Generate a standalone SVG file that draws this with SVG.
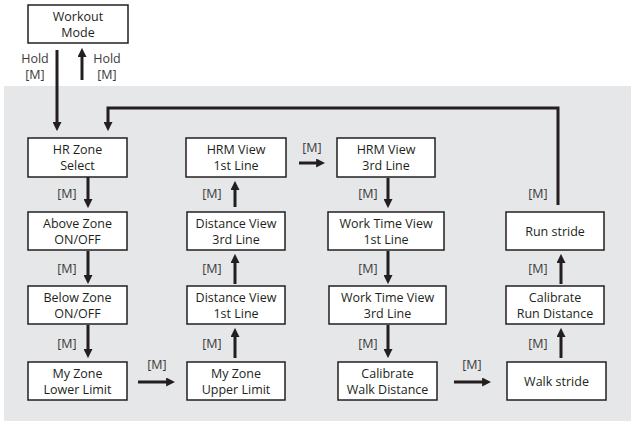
<svg xmlns="http://www.w3.org/2000/svg" width="631" height="421" viewBox="0 0 631 421">
<defs>
<marker id="ah" viewBox="0 0 10 10" refX="1" refY="5" markerWidth="9" markerHeight="9" markerUnits="userSpaceOnUse" orient="auto">
<path d="M0,0 L10,5 L0,10 z" fill="#231f20"/>
</marker>
<style>
.bx{fill:#fff;stroke:#231f20;stroke-width:1.5}
.t{font-family:"Open Sans","Liberation Sans",sans-serif;font-size:12.5px;fill:#231f20;text-anchor:middle}
.l{font-family:"Open Sans","Liberation Sans",sans-serif;font-size:12.5px;fill:#3a3a3a;text-anchor:middle}
.c{fill:none;stroke:#231f20;stroke-width:3;marker-end:url(#ah)}
</style>
</defs>
<rect x="4" y="86" width="627" height="335" fill="#e6e7e8"/>

<g id="workout"><rect class="bx" x="28" y="5" width="100" height="38"/><text class="t" x="78" y="20.5">Workout</text><text class="t" x="78" y="36.5">Mode</text></g>
<g id="hrzone"><rect class="bx" x="28" y="138" width="99" height="39"/><text class="t" x="77.5" y="154">HR Zone</text><text class="t" x="77.5" y="170">Select</text></g>
<g id="above"><rect class="bx" x="28" y="212" width="99" height="38"/><text class="t" x="77.5" y="227.5">Above Zone</text><text class="t" x="77.5" y="243.5">ON/OFF</text></g>
<g id="below"><rect class="bx" x="28" y="286" width="99" height="38"/><text class="t" x="77.5" y="301.5">Below Zone</text><text class="t" x="77.5" y="317.5">ON/OFF</text></g>
<g id="lower"><rect class="bx" x="28" y="362" width="99" height="38"/><text class="t" x="77.5" y="377.5">My Zone</text><text class="t" x="77.5" y="393.5">Lower Limit</text></g>
<g id="upper"><rect class="bx" x="187" y="362" width="98" height="38"/><text class="t" x="236" y="377.5">My Zone</text><text class="t" x="236" y="393.5">Upper Limit</text></g>
<g id="dist1"><rect class="bx" x="187" y="286" width="98" height="38"/><text class="t" x="236" y="301.5">Distance View</text><text class="t" x="236" y="317.5">1st Line</text></g>
<g id="dist3"><rect class="bx" x="187" y="212" width="98" height="38"/><text class="t" x="236" y="227.5">Distance View</text><text class="t" x="236" y="243.5">3rd Line</text></g>
<g id="hrm1"><rect class="bx" x="186" y="138" width="100" height="39"/><text class="t" x="236" y="154">HRM View</text><text class="t" x="236" y="170">1st Line</text></g>
<g id="hrm3"><rect class="bx" x="337" y="138" width="98" height="39"/><text class="t" x="386" y="154">HRM View</text><text class="t" x="386" y="170">3rd Line</text></g>
<g id="wt1"><rect class="bx" x="328" y="212" width="116" height="38"/><text class="t" x="386" y="227.5">Work Time View</text><text class="t" x="386" y="243.5">1st Line</text></g>
<g id="wt3"><rect class="bx" x="329" y="286" width="117" height="38"/><text class="t" x="387.5" y="301.5">Work Time View</text><text class="t" x="387.5" y="317.5">3rd Line</text></g>
<g id="calwalk"><rect class="bx" x="338" y="362" width="99" height="38"/><text class="t" x="387.5" y="377.5">Calibrate</text><text class="t" x="387.5" y="393.5">Walk Distance</text></g>
<g id="walk"><rect class="bx" x="507" y="362" width="99" height="38"/><text class="t" x="556.5" y="385.5">Walk stride</text></g>
<g id="calrun"><rect class="bx" x="506" y="286" width="98" height="38"/><text class="t" x="555" y="301.5">Calibrate</text><text class="t" x="555" y="317.5">Run Distance</text></g>
<g id="run"><rect class="bx" x="506" y="212" width="98" height="38"/><text class="t" x="555" y="235.5">Run stride</text></g>

<g id="connectors">
<path class="c" d="M57,50 V123"/>
<path class="c" d="M82,80 V56"/>
<path class="c" d="M558,205 V108 H108 V123"/>
<path class="c" d="M88,177 V200"/>
<path class="c" d="M88,251 V276"/>
<path class="c" d="M88,325 V350"/>
<path class="c" d="M138,382 H167"/>
<path class="c" d="M235,358 V336"/>
<path class="c" d="M235,284 V262"/>
<path class="c" d="M235,207 V189"/>
<path class="c" d="M299,163 H317"/>
<path class="c" d="M388,178 V200"/>
<path class="c" d="M388,251 V276"/>
<path class="c" d="M388,325 V350"/>
<path class="c" d="M454,382 H483"/>
<path class="c" d="M561,358 V336"/>
<path class="c" d="M561,284 V262"/>
</g>

<g id="labels">
<text class="l" x="35" y="63">Hold</text><text class="l" x="35" y="79">[M]</text>
<text class="l" x="107" y="63">Hold</text><text class="l" x="107" y="79">[M]</text>
<text class="l" x="67" y="197.5">[M]</text>
<text class="l" x="67" y="272.5">[M]</text>
<text class="l" x="67" y="347.5">[M]</text>
<text class="l" x="157" y="368.5">[M]</text>
<text class="l" x="212" y="347.5">[M]</text>
<text class="l" x="212" y="272.5">[M]</text>
<text class="l" x="212" y="197.5">[M]</text>
<text class="l" x="312" y="151.5">[M]</text>
<text class="l" x="368" y="197.5">[M]</text>
<text class="l" x="368" y="272.5">[M]</text>
<text class="l" x="368" y="347.5">[M]</text>
<text class="l" x="472" y="368.5">[M]</text>
<text class="l" x="538" y="347.5">[M]</text>
<text class="l" x="538" y="272.5">[M]</text>
<text class="l" x="538" y="197.5">[M]</text>
</g>
</svg>
